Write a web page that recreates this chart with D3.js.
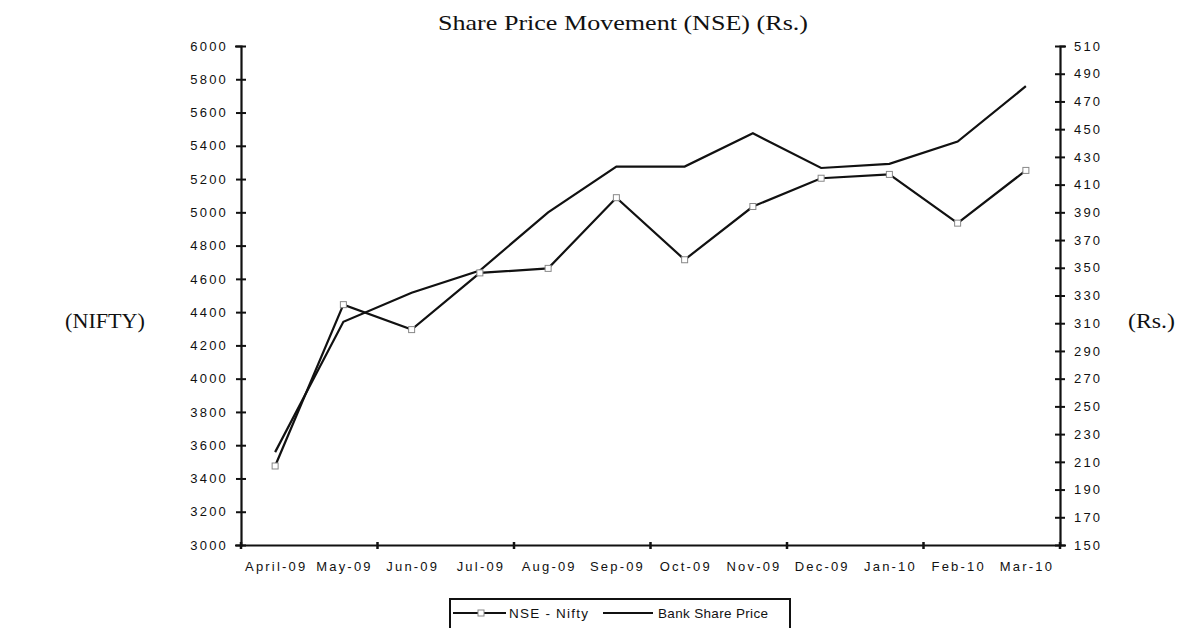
<!DOCTYPE html>
<html>
<head>
<meta charset="utf-8" />
<title>Share Price Movement</title>
<script src="https://cdn.jsdelivr.net/npm/d3@7"></script>
<style>
  body { margin: 0; background: #fff; }
  .tick text { font-family: "Liberation Sans", Arial, sans-serif; font-size: 13px; letter-spacing: 2.2px; fill: #111; }
  .serif { font-family: "Liberation Serif", "DejaVu Serif", serif; fill: #111; }
  .leg { font-family: "Liberation Sans", Arial, sans-serif; font-size: 13.5px; fill: #111; }
</style>
</head>
<body>
<svg id="chart" width="1190" height="628"></svg>
<script>
var months = ["April-09","May-09","Jun-09","Jul-09","Aug-09","Sep-09","Oct-09","Nov-09","Dec-09","Jan-10","Feb-10","Mar-10"];
var nifty = [3475, 4445, 4295, 4636, 4663, 5088, 4715, 5035, 5205, 5228, 4935, 5252];
var bank = [217, 311, 332, 348, 390, 423, 423, 447, 422, 425, 441, 481];
var leftTicks = d3.range(3000, 6001, 200);
var rightTicks = d3.range(150, 511, 20);

var svg = d3.select("#chart");
var plotL = 241, plotR = 1060, plotT = 46, plotB = 545;

var x = d3.scaleBand().domain(months).range([plotL, plotR]);
var yL = d3.scaleLinear().domain([3000, 6000]).range([plotB, plotT]);
var yR = d3.scaleLinear().domain([150, 510]).range([plotB, plotT]);

// title and side labels (wide old-style serif in the original, so stretch glyphs a bit)
svg.append("text").attr("class", "serif")
  .attr("x", 438).attr("y", 30)
  .attr("textLength", 370).attr("lengthAdjust", "spacingAndGlyphs")
  .style("font-size", "21px").text("Share Price Movement (NSE) (Rs.)");
svg.append("text").attr("class", "serif")
  .attr("x", 65).attr("y", 328)
  .attr("textLength", 80).attr("lengthAdjust", "spacingAndGlyphs")
  .style("font-size", "21px").text("(NIFTY)");
svg.append("text").attr("class", "serif")
  .attr("x", 1128).attr("y", 328)
  .attr("textLength", 47).attr("lengthAdjust", "spacingAndGlyphs")
  .style("font-size", "21px").text("(Rs.)");

// axes
var ga = svg.append("g").attr("transform", "translate(" + plotL + ",0)")
  .call(d3.axisLeft(yL).tickValues(leftTicks).tickFormat(d3.format("d")).tickSize(6).tickPadding(7));
var gb = svg.append("g").attr("transform", "translate(" + plotR + ",0)")
  .call(d3.axisRight(yR).tickValues(rightTicks).tickSize(6).tickPadding(8));
var gx = svg.append("g").attr("transform", "translate(0," + plotB + ")")
  .call(d3.axisBottom(x).tickSize(0).tickPadding(17));

[ga, gb, gx].forEach(function(g) {
  g.select(".domain").attr("stroke", "#111").attr("stroke-width", 2.2);
  g.selectAll(".tick line").attr("stroke", "#111").attr("stroke-width", 2);
});
ga.selectAll(".tick line").attr("x2", -5).attr("x1", 5);
gb.selectAll(".tick line").attr("x1", -5).attr("x2", 5);
gx.selectAll(".tick text").attr("dx", "1.1px");

// x ticks between every second pair of categories
var step = x.step();
svg.append("g").selectAll("line")
  .data(d3.range(0, months.length + 1, 2))
  .enter().append("line")
  .attr("x1", function(i) { return plotL + i * step; })
  .attr("x2", function(i) { return plotL + i * step; })
  .attr("y1", plotB - 3).attr("y2", plotB + 4)
  .attr("stroke", "#111").attr("stroke-width", 2.5);

var cx = function(d, i) { return x(months[i]) + x.bandwidth() / 2; };

var lineN = d3.line().x(cx).y(function(d) { return yL(d); });
var lineB = d3.line().x(cx).y(function(d) { return yR(d); });

svg.append("path").datum(bank).attr("d", lineB)
  .attr("fill", "none").attr("stroke", "#111").attr("stroke-width", 2.2);
svg.append("path").datum(nifty).attr("d", lineN)
  .attr("fill", "none").attr("stroke", "#111").attr("stroke-width", 2.2);

svg.append("g").selectAll("rect")
  .data(nifty).enter().append("rect")
  .attr("x", function(d, i) { return cx(d, i) - 3; })
  .attr("y", function(d) { return yL(d) - 3; })
  .attr("width", 6).attr("height", 6)
  .attr("fill", "#fff").attr("stroke", "#888").attr("stroke-width", 1);

// legend
var lg = svg.append("g");
lg.append("rect").attr("x", 450).attr("y", 599).attr("width", 340).attr("height", 40)
  .attr("fill", "#fff").attr("stroke", "#111").attr("stroke-width", 2);
lg.append("line").attr("x1", 453).attr("x2", 506).attr("y1", 613).attr("y2", 613)
  .attr("stroke", "#111").attr("stroke-width", 2);
lg.append("rect").attr("x", 478).attr("y", 610).attr("width", 6).attr("height", 6)
  .attr("fill", "#fff").attr("stroke", "#888");
lg.append("text").attr("class", "leg").attr("x", 509).attr("y", 618)
  .attr("textLength", 79).attr("lengthAdjust", "spacing").text("NSE - Nifty");
lg.append("line").attr("x1", 603).attr("x2", 653).attr("y1", 613).attr("y2", 613)
  .attr("stroke", "#111").attr("stroke-width", 2);
lg.append("text").attr("class", "leg").attr("x", 658).attr("y", 618)
  .attr("textLength", 110).attr("lengthAdjust", "spacing").text("Bank Share Price");
</script>
</body>
</html>
